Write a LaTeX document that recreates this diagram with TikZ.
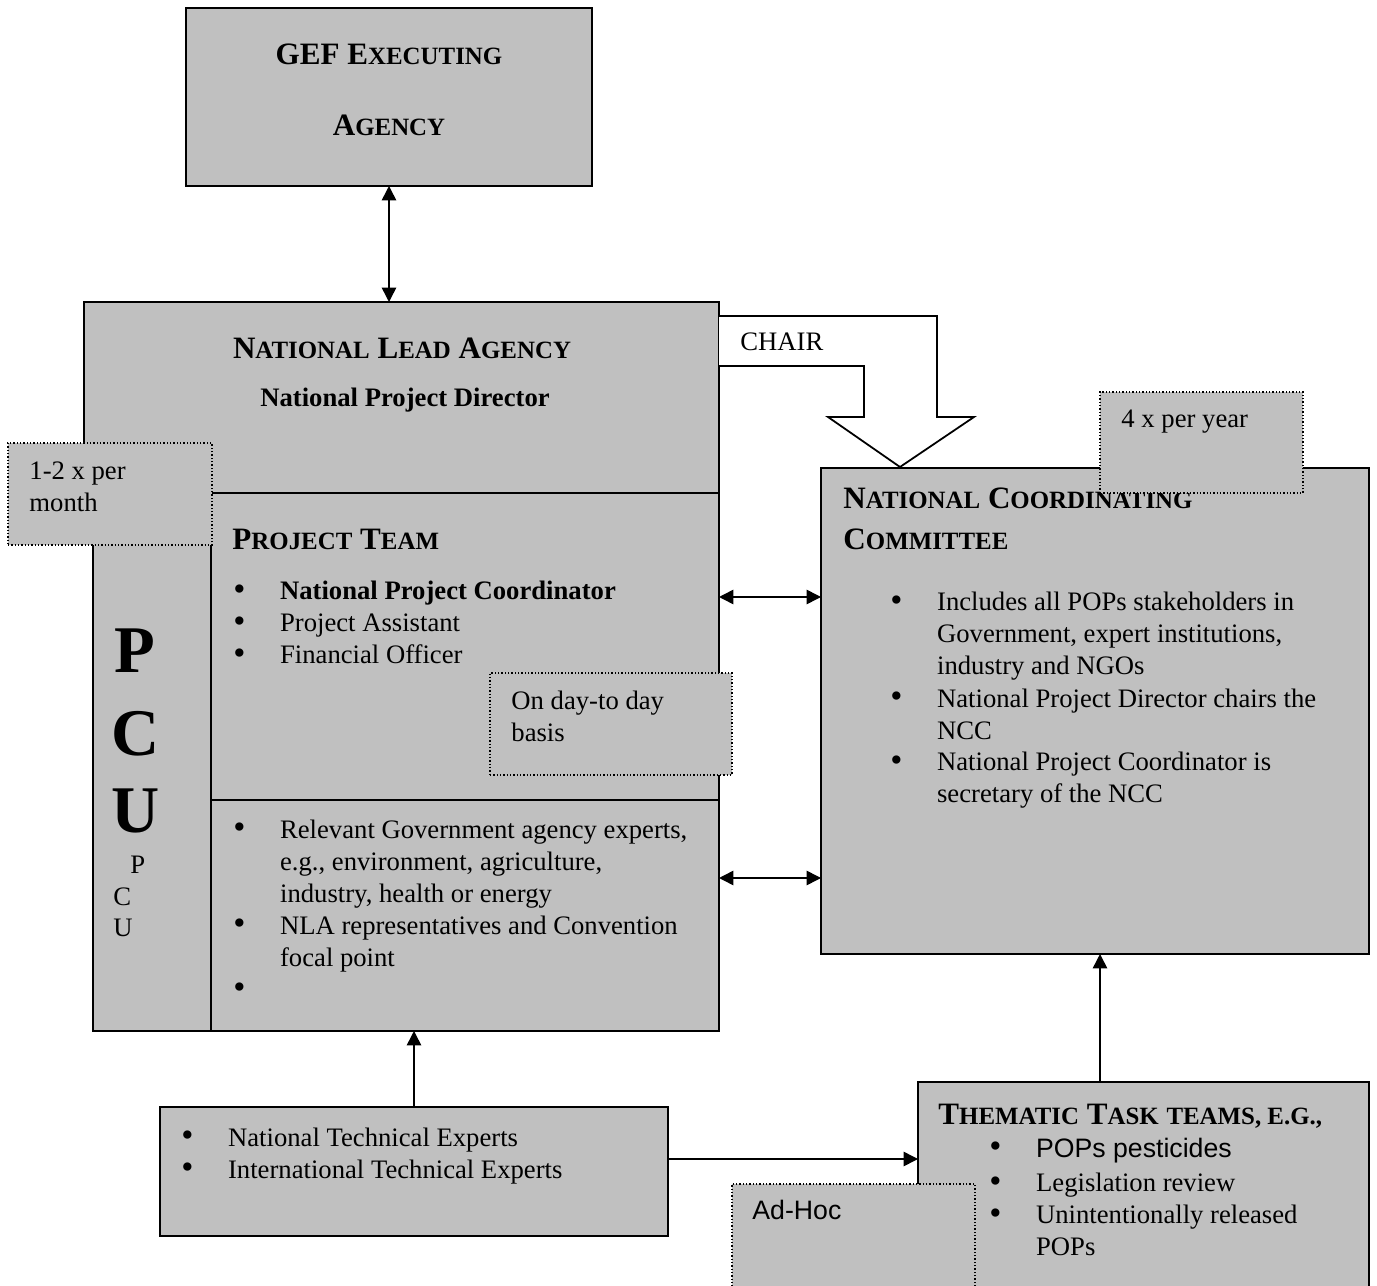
\documentclass[tikz,border=0pt]{standalone}
\usepackage{fontspec}
\setmainfont{Liberation Serif}
\newfontfamily\arialfont{Liberation Sans}
\usepackage{array}
\usetikzlibrary{arrows.meta}
\definecolor{boxgray}{RGB}{192,192,192}
\newcommand\smc[2]{#1{\fontsize{11.2}{13}\selectfont #2}}
\newcommand\bul{\smash{\raisebox{-0.4pt}{\scalebox{1.3}{\textbullet}}}}
\newcommand\blist[1]{\begin{tabular}[t]{@{}p{21pt}@{}l@{}}#1\end{tabular}}
\newcommand\llist[1]{\begin{tabular}[t]{@{}l@{}}#1\end{tabular}}

\begin{document}
\begin{tikzpicture}[x=0.45pt,y=-0.45pt,
            box/.style={draw,rectangle,line width=0.9pt,fill=boxgray,inner sep=0,outer sep=0},
            note/.style={box,line width=0.6pt,dash pattern=on 0.6pt off 0.9pt},
            txt/.style={anchor=base west,inner sep=0,font=\fontsize{12}{14.4}\selectfont},
            head/.style={txt,font=\fontsize{14}{16}\selectfont\bfseries},
            big/.style={anchor=base,inner sep=0,font=\fontsize{30}{30}\selectfont\bfseries},
            link/.style={draw,line width=0.7pt,>={Triangle[length=6.5pt,width=6.5pt]}}
          ]
          \path[use as bounding box,clip] (0,0) rectangle (1377,1286);

          %boxes
          \node[box,minimum width=182.7pt,minimum height=80.1pt] (gef) at (389,97) {};
          \node[box,minimum width=285.75pt,minimum height=85.95pt] (nla) at (401.5,397.5) {};
          \node[box,minimum width=53.1pt,minimum height=242.1pt] (pcu) at (152,762) {};
          \node[box,minimum width=228.6pt,minimum height=138.15pt] (team) at (465,646.5) {};
          \node[box,minimum width=228.6pt,minimum height=103.95pt] (members) at (465,915.5) {};
          \node[box,minimum width=246.6pt,minimum height=218.7pt] (ncc) at (1095,711) {};
          \node[box,minimum width=228.6pt,minimum height=58.05pt] (tech) at (414,1171.5) {};
          \node[box,minimum width=202.95pt,minimum height=98.1pt] (task) at (1143.5,1191) {};

          %titles
          \node[head,anchor=base] (gef1) at (389,65) {\smc{GEF}{} \smc{E}{XECUTING}};
          \node[head,anchor=base] (gef2) at (389,136) {\smc{A}{GENCY}};
          \node[head,anchor=base] (nlat) at (402,359) {\smc{N}{ATIONAL} \smc{L}{EAD} \smc{A}{GENCY}};
          \node[txt,anchor=base,font=\fontsize{12}{14.4}\selectfont\bfseries] (npd) at (405,407) {National Project Director};
          \node[head] (teamt) at (232,550) {\smc{P}{ROJECT} \smc{T}{EAM}};
          \node[head] (ncct) at (843,509) {\llist{\smc{N}{ATIONAL} \smc{C}{OORDINATING}\\[2.2pt] \smc{C}{OMMITTEE}}};
          \node[head] (taskt) at (938,1124) {\smc{T}{HEMATIC} \smc{T}{ASK} \smc{}{TEAMS, E.G.,}};

          %pcu letters
          \node[big] (p) at (135,673) {P};
          \node[big] (c) at (136,755) {C};
          \node[big] (u) at (136,832) {U};
          \node[txt] (p2) at (130,873) {P};
          \node[txt] (c2) at (113,905) {C};
          \node[txt] (u2) at (113,936) {U};

          %lists
          \node[txt] (teaml) at (233,600) {\blist{\bul & \textbf{National Project Coordinator}\\
            \bul & Project Assistant\\
            \bul & Financial Officer}};
          \node[txt] (membl) at (233,838) {\blist{\bul & Relevant Government agency experts,\\
            & e.g., environment, agriculture,\\
            & industry, health or energy\\
            \bul & NLA representatives and Convention\\
            & focal point\\
            \bul & }};
          \node[txt] (nccl) at (890,611) {\blist{\bul & Includes all POPs stakeholders in\\
            & Government, expert institutions,\\
            & industry and NGOs\\
            \bul & National Project Director chairs the\\
            & NCC\\
            \bul & National Project Coordinator is\\
            & secretary of the NCC}};
          \node[txt] (techl) at (181,1146) {\blist{\bul & National Technical Experts\\
            \bul & International Technical Experts}};
          \node[txt] (taskl) at (989,1157) {\blist{\bul & {\arialfont POPs pesticides}\\[1pt]
            \bul & Legislation review\\
            \bul & Unintentionally released\\
            & POPs}};

          %chair arrow
          \draw[line width=0.8pt,fill=white] (nla.east |- 0,316) -- (937,316) -- (937,417) -- (974,417)
            -- (900,467) -- (828,417) -- (864,417) -- (864,366) -- (nla.east |- 0,366);
          \node[txt] (chair) at (740,351) {CHAIR};

          %links
          \coordinate (r1) at (770,597);
          \coordinate (r2) at (770,878);
          \coordinate (r3) at (800,1159);
          \coordinate (r4) at (1100,1020);
          \path[link,<->] (gef.south) -- (gef.south |- nla.north);
          \path[link,<->] (team.east |- r1) -- (ncc.west |- r1);
          \path[link,<->] (members.east |- r2) -- (ncc.west |- r2);
          \path[link,->] (tech.north) -- (tech.north |- members.south);
          \path[link,->] (tech.east |- r3) -- (task.west |- r3);
          \path[link,->] (task.north -| r4) -- (ncc.south -| r4);

          %notes
          \node[note,minimum width=91.8pt,minimum height=45.9pt] (month) at (110,494) {};
          \node[txt] at (29,480) {\llist{1-2 x per\\ month}};
          \node[note,minimum width=91.35pt,minimum height=45.45pt] (year) at (1201.5,442.5) {};
          \node[txt] at (1121,428) {4 x per year};
          \node[note,minimum width=108.9pt,minimum height=45.9pt] (daily) at (611,724) {};
          \node[txt] at (511,709) {\llist{On day-to day\\ basis}};
          \node[note,minimum width=109.35pt,minimum height=47.7pt] (adhoc) at (853.5,1237) {};
          \node[txt,font=\fontsize{12}{14.4}\selectfont\arialfont] at (752,1219) {Ad-Hoc};
      \end{tikzpicture}
\end{document}
